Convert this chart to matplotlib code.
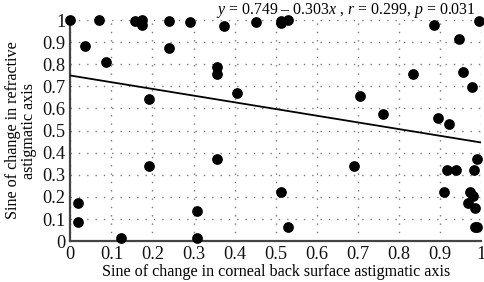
import numpy as np
import matplotlib.pyplot as plt

plt.rcParams["font.family"] = ["Liberation Serif", "DejaVu Serif"]
plt.rcParams["mathtext.fontset"] = "custom"
plt.rcParams["mathtext.rm"] = "Liberation Serif"
plt.rcParams["mathtext.it"] = "Liberation Serif:italic"

# scatter points
corneal_x = [0.000, 0.035, 0.070, 0.088, 0.157, 0.175, 0.174, 0.191, 0.241, 0.241,
             0.291, 0.374, 0.358, 0.358, 0.405, 0.453, 0.512, 0.514, 0.529, 0.886,
             0.994, 0.945, 0.834, 0.956, 0.977, 0.704, 0.762, 0.894, 0.922, 0.019,
             0.019, 0.124, 0.191, 0.358, 0.308, 0.308, 0.691, 0.513, 0.529, 0.916,
             0.940, 0.982, 0.990, 0.909, 0.973, 0.980, 0.969, 0.986, 0.985, 0.990]
refractive_y = [1.000, 0.884, 1.000, 0.809, 0.995, 1.000, 0.977, 0.643, 0.997, 0.875,
                0.990, 0.974, 0.789, 0.754, 0.668, 0.991, 0.985, 0.994, 0.998, 0.976,
                0.994, 0.914, 0.756, 0.766, 0.695, 0.656, 0.573, 0.558, 0.529, 0.172,
                0.085, 0.014, 0.339, 0.371, 0.136, 0.014, 0.339, 0.222, 0.066, 0.323,
                0.323, 0.323, 0.372, 0.222, 0.222, 0.205, 0.172, 0.152, 0.066, 0.066]

intercept = 0.749
slope = -0.303
ticks = [0, 0.1, 0.2, 0.3, 0.4, 0.5, 0.6, 0.7, 0.8, 0.9, 1]
tick_labels = ["0", "0.1", "0.2", "0.3", "0.4", "0.5", "0.6", "0.7", "0.8", "0.9", "1"]

fig = plt.figure(figsize=(4.85, 2.82), dpi=100)
ax = fig.add_axes([0.145, 0.145, 0.847, 0.784])

ax.set_xlim(0, 1)
ax.set_ylim(0, 1)
ax.set_xticks(ticks)
ax.set_xticklabels(tick_labels)
ax.set_yticks(ticks)
ax.set_yticklabels(tick_labels)
ax.tick_params(length=0, labelsize=13.2, pad=3.5, colors="#111111")

ax.grid(True, color="#777777", linestyle=(0, (1, 5)), linewidth=1.0)
ax.set_axisbelow(True)

for side in ["top", "right"]:
    ax.spines[side].set_visible(False)
for side in ["left", "bottom"]:
    ax.spines[side].set_color("#444444")
    ax.spines[side].set_linewidth(1.6)

fit_x = np.array([0.0, 1.0])
ax.plot(fit_x, intercept + slope * fit_x, color="black", linewidth=1.3, zorder=3)

ax.scatter(corneal_x, refractive_y, s=45, color="black", zorder=4, clip_on=False)

ax.set_xlabel("Sine of change in corneal back surface astigmatic axis", fontsize=11.6,
              labelpad=1)
ax.set_ylabel("Sine of change in refractive\nastigmatic axis", fontsize=11.6,
              linespacing=0.95, labelpad=4)

fig.text(0.982, 0.995,
         r"$y$ = 0.749 – 0.303$x$ , $r$ = 0.299, $p$ = 0.031",
         ha="right", va="top", fontsize=11.4)

fig.savefig("out.png", dpi=100)
